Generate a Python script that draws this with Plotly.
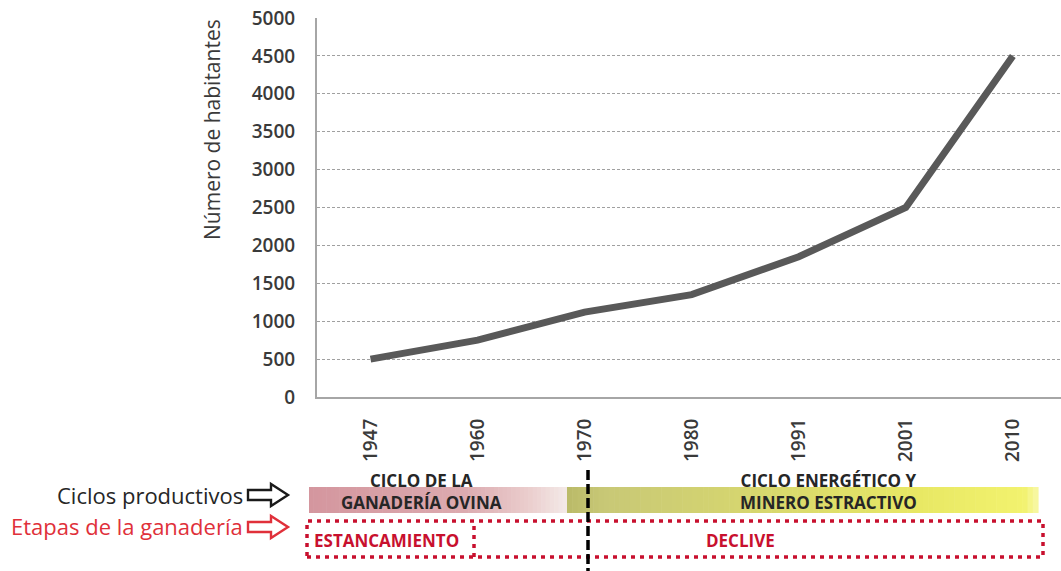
import plotly.graph_objects as go

# Population series
years = ["1947", "1960", "1970", "1980", "1991", "2001", "2010"]
habitantes = [500, 750, 1120, 1350, 1850, 2500, 4500]

# Axis ticks
y_ticks = [0, 500, 1000, 1500, 2000, 2500, 3000, 3500, 4000, 4500, 5000]

# Period labels below the chart
ciclos = ["CICLO DE LA<br>GANADERÍA OVINA", "CICLO ENERGÉTICO Y<br>MINERO ESTRACTIVO"]
etapas = ["ESTANCAMIENTO", "DECLIVE"]
leyendas = ["Ciclos productivos", "Etapas de la ganadería"]

W, H = 1061, 571
ML, MR, MT, MB = 317, 0, 18, 174
PW = W - ML - MR
PH = H - MT - MB


def px(x):
    return (x - ML) / PW


def py(y):
    return (H - MB - y) / PH


FONT = "Open Sans"
GREY_TXT = "#3a3a3a"
RED = "#c8102e"

fig = go.Figure()
fig.add_trace(go.Scatter(
    x=years, y=habitantes, mode="lines",
    line=dict(color="#595959", width=7),
    hoverinfo="x+y", showlegend=False,
))

shapes = []


def band(x0, x1, y0, y1, stops, n):
    """Horizontal colour gradient made of thin rectangles."""
    for i in range(n):
        t = (i + 0.5) / n
        for k in range(len(stops) - 1):
            if stops[k][0] <= t <= stops[k + 1][0]:
                a, b = stops[k], stops[k + 1]
                f = (t - a[0]) / (b[0] - a[0]) if b[0] > a[0] else 0
                c = [round(a[1][j] + (b[1][j] - a[1][j]) * f) for j in range(3)]
                break
        xa = x0 + (x1 - x0) * i / n
        xb = x0 + (x1 - x0) * (i + 1) / n + 0.6
        shapes.append(dict(
            type="rect", xref="paper", yref="paper",
            x0=px(xa), x1=px(xb), y0=py(y1), y1=py(y0),
            fillcolor=f"rgb({c[0]},{c[1]},{c[2]})", line=dict(width=0),
            layer="below",
        ))


band(309, 567, 487, 513, [
    (0.0, (212, 150, 158)),
    (0.6, (220, 170, 175)),
    (0.85, (234, 205, 205)),
    (1.0, (244, 234, 232)),
], 60)
band(567, 1038, 487, 513, [
    (0.0, (186, 186, 104)),
    (0.08, (200, 200, 118)),
    (0.35, (212, 212, 112)),
    (0.75, (232, 232, 100)),
    (0.97, (242, 242, 110)),
    (1.0, (248, 248, 170)),
], 90)

# Red dotted frame for the livestock stages
red_line = dict(color=RED, width=3.5, dash="4px,5px")
shapes.append(dict(type="rect", xref="paper", yref="paper",
                   x0=px(307), x1=px(1043), y0=py(557), y1=py(521),
                   line=red_line, fillcolor="rgba(0,0,0,0)"))
shapes.append(dict(type="line", xref="paper", yref="paper",
                   x0=px(474), x1=px(474), y0=py(557), y1=py(521),
                   line=red_line))

# Black dashed divider at 1970
shapes.append(dict(type="line", xref="paper", yref="paper",
                   x0=px(588), x1=px(588), y0=py(470), y1=py(571),
                   line=dict(color="black", width=3.5, dash="10px,4px")))


def arrow(x0, x1, yc, color):
    sh0, sh1 = yc - 5, yc + 5
    h0, h1 = yc - 11, yc + 11
    xm = x1 - 17
    pts = [(x0, sh0), (xm, sh0), (xm, h0), (x1, yc), (xm, h1), (xm, sh1), (x0, sh1)]
    d = "M " + " L ".join(f"{px(a):.5f},{py(b):.5f}" for a, b in pts) + " Z"
    shapes.append(dict(type="path", xref="paper", yref="paper", path=d,
                       fillcolor="white", line=dict(color=color, width=2.4)))


arrow(248, 288, 495, "#1a1a1a")
arrow(248, 288, 527, "#e0303a")


def note(text, x, y, size, color, anchor="center", weight=None, angle=0):
    f = dict(family=FONT, size=size, color=color)
    if weight:
        f["weight"] = weight
    return dict(text=text, x=px(x), y=py(y), xref="paper", yref="paper",
                textangle=angle, showarrow=False, font=f,
                xanchor=anchor, yanchor="middle")


annotations = [
    note("Número de habitantes", 212, 130, 21, GREY_TXT, angle=-90),
    note(f"<b>{ciclos[0]}</b>", 421, 491, 17, "#262626"),
    note(f"<b>{ciclos[1]}</b>", 828, 491, 17, "#262626"),
    note(f"<b>{etapas[0]}</b>", 386, 540, 17, RED),
    note(f"<b>{etapas[1]}</b>", 740, 540, 17, RED),
    note(leyendas[0], 245, 495, 22, "#262626", anchor="right"),
    note(leyendas[1], 245, 526, 22, "#e0303a", anchor="right"),
]

fig.update_layout(
    width=W, height=H,
    margin=dict(l=ML, r=MR, t=MT, b=MB, pad=0),
    paper_bgcolor="white", plot_bgcolor="white",
    showlegend=False,
    shapes=shapes,
    annotations=annotations,
    xaxis=dict(
        type="category", categoryorder="array", categoryarray=years,
        range=[-0.5, 6.45],
        tickangle=-90, tickfont=dict(family=FONT, size=19, color=GREY_TXT, weight=600),
        showgrid=False, zeroline=False,
        showline=True, linecolor="#a6a6a6", linewidth=2,
        ticks="", ticklabelstandoff=12,
    ),
    yaxis=dict(
        range=[0, 5000], tickvals=y_ticks,
        tickfont=dict(family=FONT, size=19, color=GREY_TXT, weight=600),
        showgrid=True, gridcolor="#a0a0a0", gridwidth=1, griddash="3px,2px",
        zeroline=False, showline=True, linecolor="#a6a6a6", linewidth=2,
        ticks="", ticklabelstandoff=16,
    ),
)

fig.write_html("out.html")
